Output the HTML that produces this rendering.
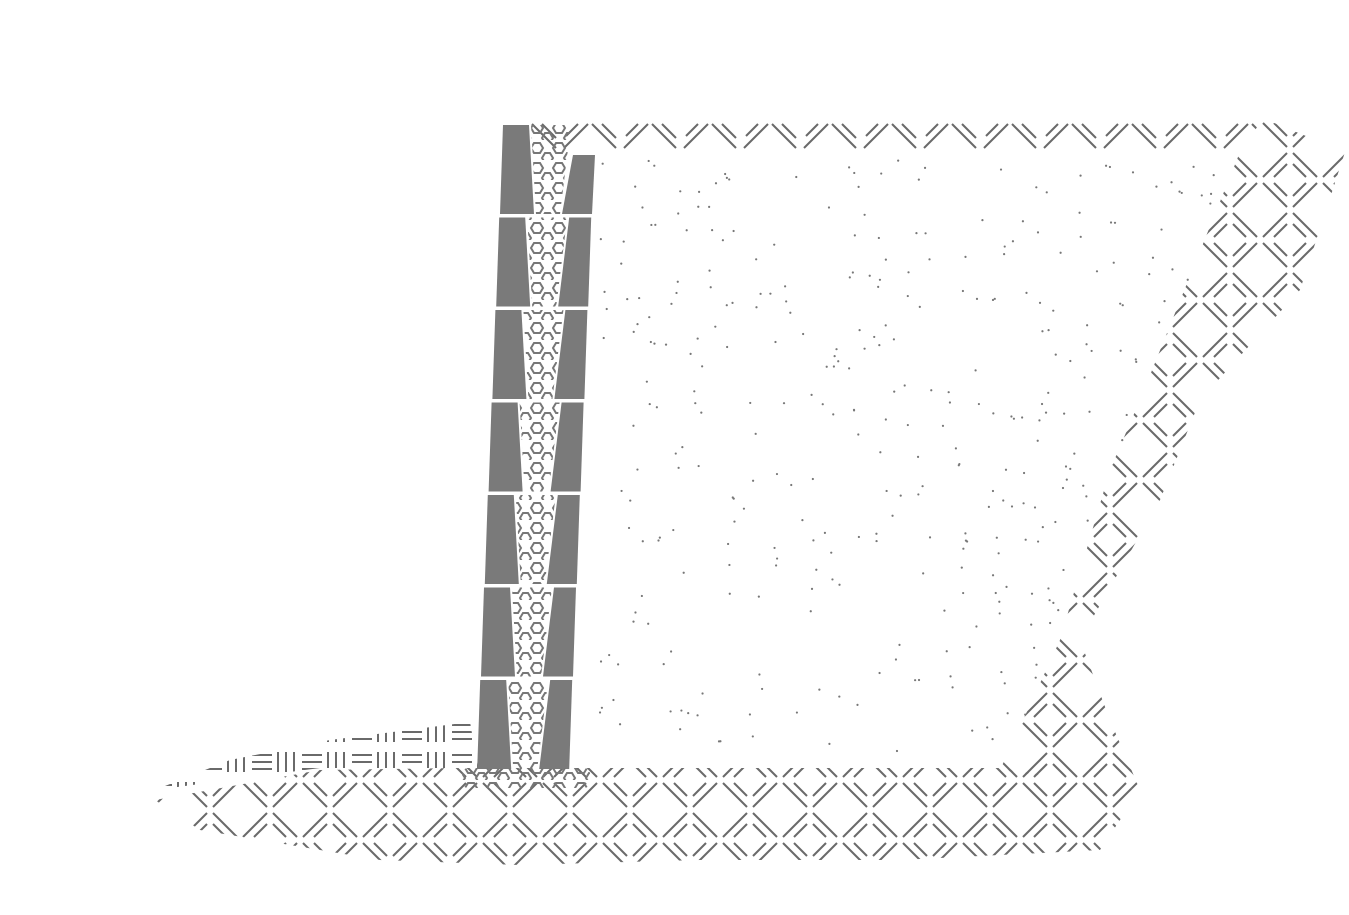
<!DOCTYPE html>
<html><head><meta charset="utf-8"><style>html,body{margin:0;background:#fff}svg{display:block}</style></head>
<body>
<svg id="s" width="1349" height="915" viewBox="0 0 1349 915" xmlns="http://www.w3.org/2000/svg">
<defs>
<pattern id="h" width="60" height="60" patternUnits="userSpaceOnUse">
<g stroke="#6a6a6a" stroke-width="2">
<line x1="3" y1="3" x2="27" y2="27"/><line x1="14" y1="3" x2="27" y2="16"/>
<line x1="57" y1="3" x2="33" y2="27"/><line x1="46" y1="3" x2="33" y2="16"/>
<line x1="27" y1="33" x2="3" y2="57"/><line x1="27" y1="44" x2="14" y2="57"/>
<line x1="33" y1="33" x2="57" y2="57"/><line x1="33" y1="44" x2="46" y2="57"/>
</g></pattern>
<pattern id="t" width="60" height="32" patternUnits="userSpaceOnUse" x="530" y="120">
<g stroke="#6a6a6a" stroke-width="2">
<line x1="2" y1="4" x2="26" y2="28"/><line x1="12" y1="4" x2="26" y2="18"/>
<line x1="58" y1="4" x2="34" y2="28"/><line x1="48" y1="4" x2="36" y2="16"/>
</g></pattern>
<pattern id="b" width="50" height="30" patternUnits="userSpaceOnUse">
<g stroke="#6a6a6a" stroke-width="2">
<line x1="2" y1="5" x2="22" y2="5"/><line x1="2" y1="12" x2="22" y2="12"/><line x1="2" y1="19" x2="22" y2="19"/>
<line x1="28" y1="2" x2="28" y2="22"/><line x1="36" y1="2" x2="36" y2="22"/><line x1="44" y1="2" x2="44" y2="22"/>
</g></pattern>
<pattern id="x" width="22" height="20" patternUnits="userSpaceOnUse">
<g fill="none" stroke="#777" stroke-width="2">
<polygon points="6,3 12,3 15,8 12,13 6,13 3,8"/><polygon points="17,13 22,13 25,18 22,23 17,23 14,18"/><polygon points="-5,13 0,13 3,18 0,23 -5,23 -8,18"/>
</g></pattern>
</defs>
<polygon points="530,120 1262,120 1240,152 530,152" fill="url(#t)"/>
<polygon points="1262,118 1345,152 1300,290 1200,400 1160,500 1080,640 1110,720 1140,790 1000,770 1060,640 1110,470 1140,400 1240,152" fill="url(#h)"/>
<polygon points="460,768 1000,768 1140,790 1100,850 900,860 700,860 520,865 380,860 200,830 155,800 320,770 460,768" fill="url(#h)"/>
<polygon points="155,790 230,760 330,740 470,722 478,768 320,768" fill="url(#b)"/>
<g id="wall"></g>
<rect x="462" y="768" width="128" height="20" rx="6" fill="url(#x)"/>
<g id="dots" fill="#777"></g>
</svg>
<script>
var w=document.getElementById('wall'),ns='http://www.w3.org/2000/svg';
function p(pts,f){var e=document.createElementNS(ns,'polygon');e.setAttribute('points',pts);e.setAttribute('fill',f);w.appendChild(e);}
for(var i=0;i<7;i++){var t=125+i*92.5,bt=t+89,x=503-i*3.8,d=3;
 p((x+28)+','+t+' '+(x+68)+','+t+' '+(x+60-d)+','+bt+' '+(x+33)+','+bt,'url(#x)');
 p(x+','+t+' '+(x+26)+','+t+' '+(x+31)+','+bt+' '+(x-d)+','+bt,'#7a7a7a');
 p((x+70)+','+(i==0?t+30:t)+' '+(x+92)+','+(i==0?t+30:t)+' '+(x+92-d)+','+bt+' '+(x+62-d)+','+bt,'#7a7a7a');
}
var g=document.getElementById('dots'),s=7;
function r(){s=(s*16807)%2147483647;return s/2147483647;}
for(var k=0;k<420;k++){var X=600+r()*640,Y=160+r()*600;var lim=1240-(Y-152)*0.38;if(X>lim)continue;
var c=document.createElementNS(ns,'circle');c.setAttribute('cx',X);c.setAttribute('cy',Y);c.setAttribute('r',1.1);g.appendChild(c);}
</script>
</body></html>
